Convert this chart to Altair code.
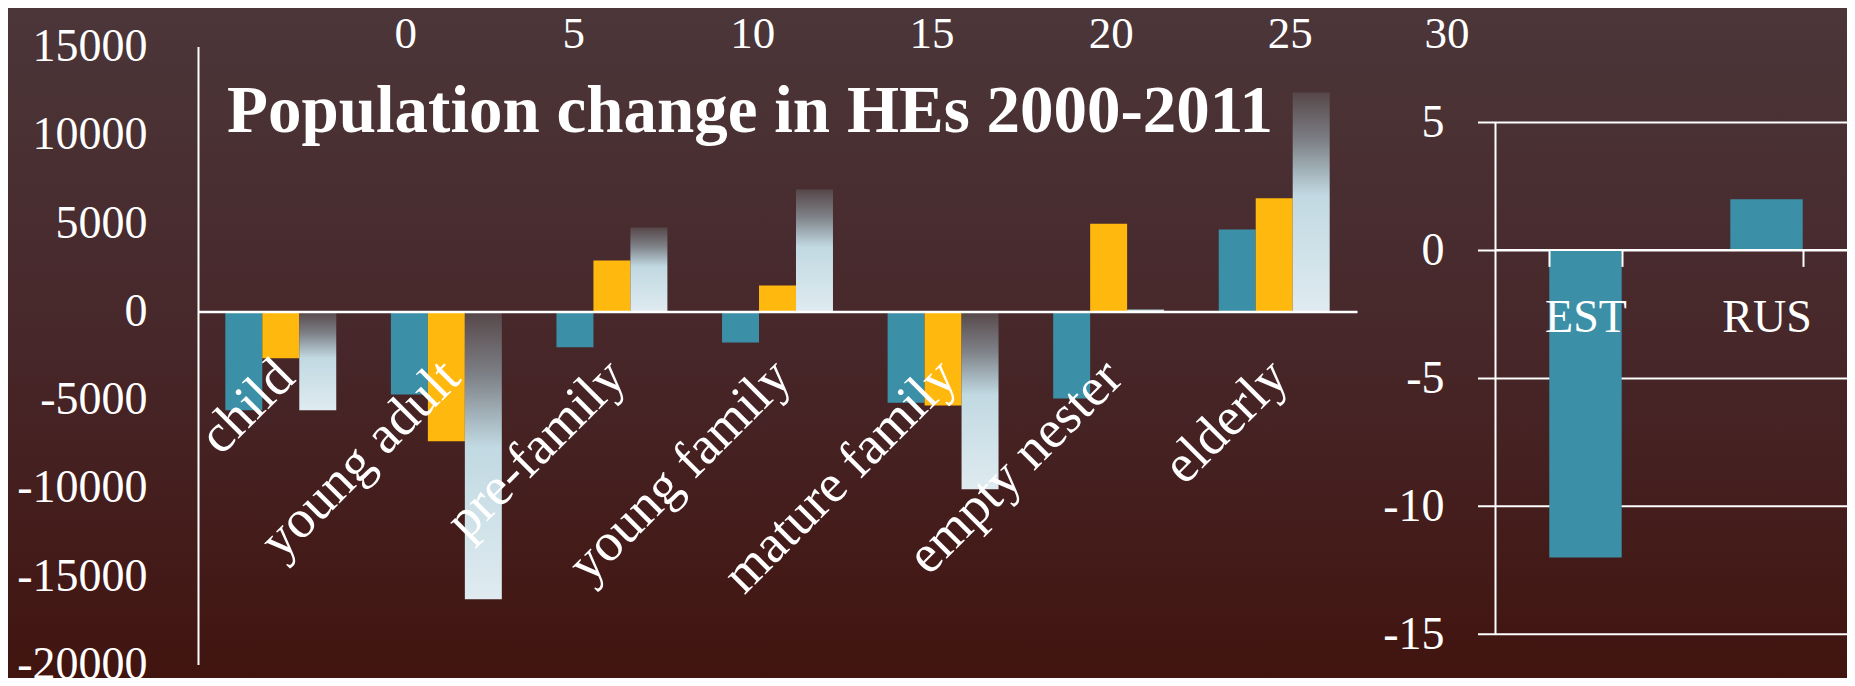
import altair as alt
import pandas as pd

# ---------------- data ----------------
categories = ["child", "young adult", "pre-family", "young family",
              "mature family", "empty nester", "elderly"]
series_names = ["Series 1", "Series 2", "Series 3"]
series_1 = [-5600, -4710, -2030, -1770, -5180, -4930, 4640]     # teal
series_2 = [-2650, -7360, 2880, 1460, -5330, 4960, 6400]        # orange
series_3 = [-5600, -16300, 4750, 6900, -10080, 130, 12400]      # light (gradient)

countries = ["EST", "RUS"]
country_change = [-12, 2]

top_ticks = [0, 5, 10, 15, 20, 25, 30]
left_y_ticks = [15000, 10000, 5000, 0, -5000, -10000, -15000, -20000]
right_y_ticks = [5, 0, -5, -10, -15]
title_text = "Population change in HEs 2000-2011"

# ---------------- styling ----------------
W, H = 1839, 670
SERIF = "Liberation Serif"
TEAL = "#3b90a7"
ORANGE = "#ffb80e"
WHITE = "#ffffff"

rows = []
for name, vals in zip(series_names, [series_1, series_2, series_3]):
    for c, v in zip(categories, vals):
        rows.append({"category": c, "series": name, "value": v})
df = pd.DataFrame(rows)
df_ab = df[df["series"] != "Series 3"]
df_c = df[df["series"] == "Series 3"]
df_right = pd.DataFrame({"country": countries, "change": country_change})

bg_gradient = alt.LinearGradient(
    gradient="linear", x1=0, y1=0, x2=0, y2=1,
    stops=[alt.GradientStop(offset=0, color="#4b3639"),
           alt.GradientStop(offset=0.5, color="#47272a"),
           alt.GradientStop(offset=1, color="#41140f")])

light_gradient = alt.LinearGradient(
    gradient="linear", x1=0, y1=0, x2=0, y2=1,
    stops=[alt.GradientStop(offset=0, color="#564749"),
           alt.GradientStop(offset=0.22, color="#7d8086"),
           alt.GradientStop(offset=0.47, color="#c1d9e2"),
           alt.GradientStop(offset=1, color="#dfebf0")])

# ---------------- left chart ----------------
left_x_axis = alt.Axis(orient="bottom", offset=-366.6, domainColor=WHITE, domainWidth=2.5,
                       ticks=False, tickSize=0, labelAngle=-45, labelAlign="right",
                       labelBaseline="middle", labelPadding=57, labelOffset=5,
                       labelFont=SERIF, labelFontSize=54, labelColor=WHITE,
                       labelLimit=0, labelOverlap=False, zindex=1, title=None)
left_x = alt.X("category:N", sort=categories,
               scale=alt.Scale(domain=categories, range=[190, 1349],
                               paddingInner=0.33, paddingOuter=0.165),
               axis=left_x_axis)
left_y_axis = alt.Axis(orient="left", offset=-190, values=left_y_ticks,
                       domainColor=WHITE, domainWidth=2, ticks=False, tickSize=0,
                       grid=False, labelPadding=51, labelFont=SERIF, labelFontSize=46,
                       labelColor=WHITE, labelOverlap=False, labelBaseline="middle",
                       labelExpr="'' + datum.value", zindex=1, title=None)
left_y = alt.Y("value:Q",
               scale=alt.Scale(domain=[-20000, 15000], range=[656.5, 38.5],
                               nice=False, zero=False),
               axis=left_y_axis)
x_off = alt.XOffset("series:N", sort=series_names,
                    scale=alt.Scale(domain=series_names))

left_ab = alt.Chart(df_ab).mark_bar().encode(
    x=left_x, xOffset=x_off, y=left_y,
    color=alt.Color("series:N", scale=alt.Scale(domain=series_names[:2],
                                                range=[TEAL, ORANGE]), legend=None),
)
left_c = alt.Chart(df_c).mark_bar(color=light_gradient).encode(
    x=left_x, xOffset=x_off, y=left_y,
)
left_layer = alt.layer(left_ab, left_c)

# ---------------- top axis (0..30) ----------------
top_layer = alt.Chart(pd.DataFrame({"tick": top_ticks})).mark_point(opacity=0).encode(
    x=alt.X("tick:Q",
            scale=alt.Scale(domain=[0, 30], range=[386, 1461], nice=False, zero=False),
            axis=alt.Axis(orient="top", offset=-39, values=top_ticks, domain=False,
                          ticks=False, tickSize=0, grid=False, labelPadding=0,
                          labelBaseline="alphabetic", labelFont=SERIF, labelFontSize=45,
                          labelColor=WHITE, labelOverlap=False,
                          labelExpr="'' + datum.value", zindex=1, title=None)),
)

# ---------------- right chart ----------------
right_y_scale = alt.Scale(domain=[-15, 5], range=[626.3, 114.5], nice=False, zero=False)
right_y_axis = alt.Axis(orient="left", offset=-1487, values=right_y_ticks,
                        domainColor=WHITE, domainWidth=2, ticks=False, tickSize=0,
                        grid=False, labelPadding=51, labelFont=SERIF, labelFontSize=46,
                        labelColor=WHITE, labelOverlap=False, labelBaseline="middle",
                        labelExpr="'' + datum.value", zindex=1, title=None)

right_grid = alt.Chart(pd.DataFrame({"tick": right_y_ticks})).mark_rule(
    color=WHITE, strokeWidth=2).encode(
    y=alt.Y("tick:Q", scale=right_y_scale, axis=right_y_axis),
    x=alt.value(1470), x2=alt.value(W),
)
right_bars = alt.Chart(df_right).mark_bar(color=TEAL).encode(
    x=alt.X("country:N", sort=countries,
            scale=alt.Scale(domain=countries, range=[1487, 1849],
                            paddingInner=0.6, paddingOuter=0.3),
            axis=alt.Axis(orient="bottom", offset=-428.6, domainColor=WHITE, domainWidth=2,
                          ticks=True, tickColor=WHITE, tickWidth=2, tickSize=17,
                          tickBand="extent", labelAngle=0, labelPadding=29,
                          labelBaseline="top", labelFont=SERIF, labelFontSize=46,
                          labelColor=WHITE, zindex=1, title=None)),
    y=alt.Y("change:Q", scale=right_y_scale, axis=right_y_axis),
)
right_layer = alt.layer(right_grid, right_bars)

# ---------------- background + title ----------------
bg = alt.Chart(pd.DataFrame({"bg": [0]})).mark_rect(color=bg_gradient).encode(
    x=alt.value(0), x2=alt.value(W), y=alt.value(0), y2=alt.value(H))

title_layer = alt.Chart(pd.DataFrame({"t": [title_text]})).mark_text(
    align="left", baseline="alphabetic", font=SERIF, fontSize=67,
    fontWeight="bold", color=WHITE).encode(
    text="t:N", x=alt.value(219), y=alt.value(124))

chart = alt.layer(bg, left_layer, right_layer, top_layer, title_layer).resolve_scale(
    x="independent", y="independent", xOffset="independent", color="independent"
).properties(
    width=W, height=H, padding=0,
    autosize=alt.AutoSizeParams(type="none"),
    background="#46262a",
).configure_view(stroke=None)

chart.save("out.html", embed_options={"renderer": "svg", "actions": False})
